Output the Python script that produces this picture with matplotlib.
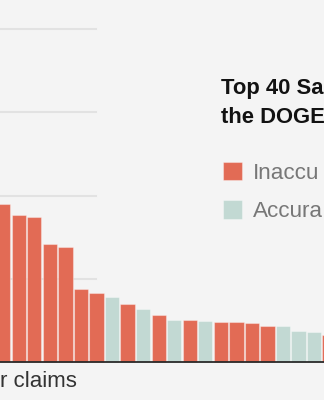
import matplotlib
matplotlib.use("Agg")
import matplotlib.pyplot as plt
from matplotlib.patches import Rectangle

# Visible claims (values in arbitrary units; gridline every 1 unit)
values = [1.894, 1.762, 1.745, 1.413, 1.384, 0.871, 0.830, 0.779, 0.698, 0.631,
          0.566, 0.498, 0.498, 0.490, 0.478, 0.478, 0.462, 0.430, 0.430, 0.369,
          0.361, 0.325]
status = ["Inaccurate", "Inaccurate", "Inaccurate", "Inaccurate", "Inaccurate",
          "Inaccurate", "Inaccurate", "Accurate", "Inaccurate", "Accurate",
          "Inaccurate", "Accurate", "Inaccurate", "Accurate", "Inaccurate",
          "Inaccurate", "Inaccurate", "Inaccurate", "Accurate", "Accurate",
          "Accurate", "Inaccurate"]
gridlines = [1, 2, 3, 4]
# Text fragments as visible in the (cropped) reference
title_lines = ["Top 40 Sa", "the DOGE"]
legend_labels = ["Inaccu", "Accura"]
legend_keys = ["Inaccurate", "Accurate"]
axis_label = "r claims"

RED = "#e26b55"
GREEN = "#c2d9d3"
BG = "#f4f4f4"
colors = {"Inaccurate": RED, "Accurate": GREEN}

W, H = 324, 400
fig = plt.figure(figsize=(W / 100, H / 100), dpi=100, facecolor=BG)
ax = fig.add_axes([0, 0, 1, 1])
ax.set_facecolor(BG)

pitch = 15.54
base_px = 361.7
unit_px = 83.1
x0_px = 3.27
ax.set_xlim(-x0_px / pitch, (W - x0_px) / pitch)
ax.set_ylim(-(H - base_px) / unit_px, base_px / unit_px)

for g in gridlines:
    ax.axhline(g, xmin=0, xmax=96 / W, color="#e2e2e2", lw=1.5, zorder=0)

xs = list(range(len(values)))
ax.bar(xs, values, width=0.92, color=[colors[s] for s in status],
       edgecolor=(1, 1, 1, 0.35), linewidth=0.8, zorder=2)
ax.axhline(0, color="#2a2a2a", lw=1.3, zorder=3)
ax.axis("off")

def fx(px):
    return px / W

def fy(py):
    return 1 - py / H

for i, line in enumerate(title_lines):
    fig.text(fx(220.7), fy(94.3 + i * 28.4), line, fontsize=15.8, fontweight="bold",
             color="#121212", va="baseline", ha="left", family="Liberation Sans")

for i, (lab, key) in enumerate(zip(legend_labels, legend_keys)):
    top = 161.7 + i * 38.5
    fig.patches.append(Rectangle((fx(223.3), fy(top + 18.5)), 19 / W, 18.5 / H,
                                 transform=fig.transFigure, facecolor=colors[key],
                                 edgecolor=(1, 1, 1, 0.35), lw=0.8))
    fig.text(fx(253.3), fy(179.3 + i * 37.5), lab, fontsize=16.2, color="#777777",
             va="baseline", ha="left", family="Liberation Sans")

fig.text(fx(0), fy(386.7), axis_label, fontsize=16, color="#333333",
         va="baseline", ha="left", family="Liberation Sans")

fig.savefig("out.png", dpi=100, facecolor=BG)
